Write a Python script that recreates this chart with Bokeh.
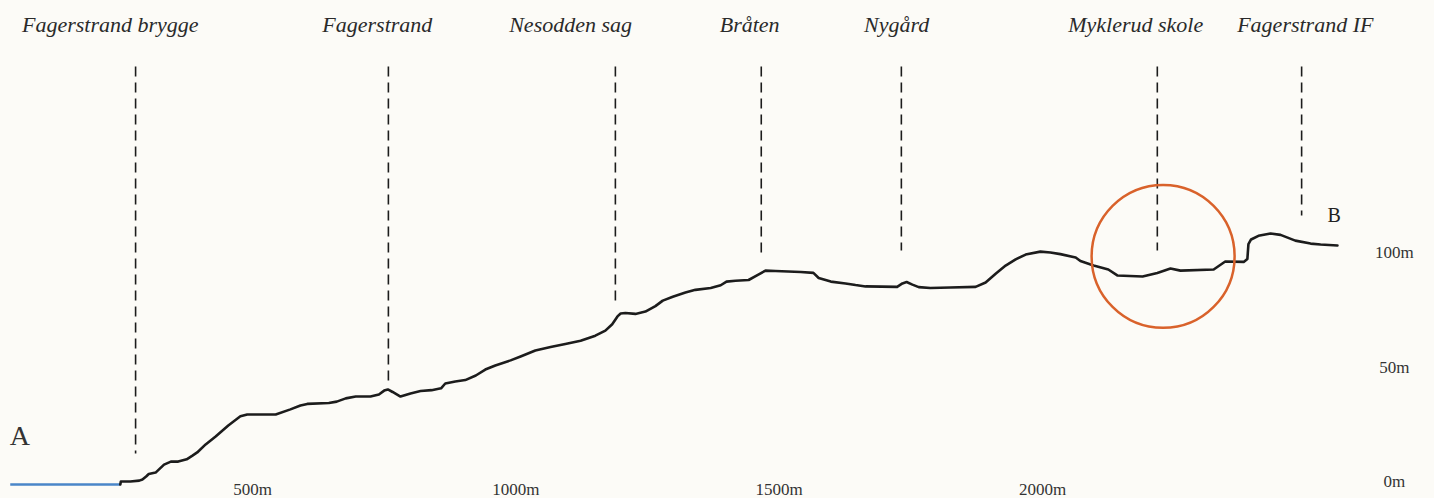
from bokeh.plotting import figure
from bokeh.models import Range1d
from bokeh.core.properties import value
from bokeh.embed import file_html
from bokeh.resources import INLINE

# ---- data -------------------------------------------------------------
# terrain profile: distance along route (m) and elevation (m)
dist = [249, 250, 268, 285, 291, 298, 303, 316, 322, 332, 345, 359, 375, 386, 395,
        411, 430, 454, 477, 490, 544, 572, 591, 604, 645, 660, 677, 696, 724, 740,
        750, 757, 766, 781, 800, 819, 840, 858, 866, 885, 904, 924, 942, 961, 990,
        1009, 1037, 1066, 1094, 1123, 1151, 1170, 1183, 1193, 1199, 1208, 1227, 1246,
        1265, 1279, 1298, 1322, 1341, 1370, 1389, 1400, 1417, 1442, 1457, 1474, 1493,
        1541, 1565, 1575, 1598, 1626, 1645, 1664, 1724, 1734, 1742, 1753, 1765, 1787,
        1825, 1873, 1892, 1911, 1930, 1949, 1968, 1996, 2015, 2034, 2063, 2072, 2097,
        2125, 2142, 2190, 2218, 2243, 2262, 2325, 2347, 2382, 2389, 2391, 2396, 2410,
        2433, 2452, 2480, 2509, 2528, 2560]
elev = [0, 1.3, 1.3, 1.7, 2.2, 3.5, 4.6, 5.2, 6.5, 8.7, 10.0, 10.0, 11.0, 12.6, 14.0,
        17.5, 21.0, 25.8, 29.8, 30.6, 30.6, 32.8, 34.5, 35.2, 35.6, 36.2, 37.6, 38.4, 38.4, 39.3,
        41.0, 41.5, 40.4, 38.4, 39.7, 40.8, 41.2, 42.0, 44.1, 45.0, 45.6, 47.6, 50.2, 52.0, 54.2,
        55.9, 58.5, 60.0, 61.4, 62.8, 65.0, 67.2, 70.0, 73.4, 74.7, 74.9, 74.5, 75.5,
        77.9, 80.3, 82.0, 83.8, 85.0, 85.8, 87.0, 88.6, 89.0, 89.3, 91.2, 93.4, 93.2,
        92.8, 92.4, 90.2, 88.6, 87.8, 87.1, 86.5, 86.3, 87.8, 88.4, 87.3, 86.2, 85.8,
        86.0, 86.3, 88.2, 92.0, 95.6, 98.3, 100.4, 101.7, 101.3, 100.6, 99.1, 97.6, 95.6,
        93.9, 91.3, 90.8, 92.4, 94.3, 93.4, 93.9, 97.4, 97.2, 98.5, 105.0, 107.0, 108.6,
        109.6, 109.0, 106.5, 105.2, 104.8, 104.4]

# sea level (water) before the shore
water_dist = [40, 249]
water_elev = [0, 0]

# stops along the route
stations = ["Fagerstrand brygge", "Fagerstrand", "Nesodden sag", "Bråten",
            "Nygård", "Myklerud skole", "Fagerstrand IF"]
station_dist = [278, 758, 1189, 1466, 1732, 2218, 2492]
station_mark_bottom = [13.5, 45.4, 78.2, 101.3, 102.2, 102.2, 117.5]
label_dist = [230, 737, 1104, 1444, 1723, 2177, 2499]

# highlighted spot
highlight_dist = [2229]
highlight_elev = [99.6]

# axis tick labels
x_ticks = [500, 1000, 1500, 2000]
x_tick_labels = ["500m", "1000m", "1500m", "2000m"]
y_ticks = [0, 50, 100]
y_tick_labels = ["0m", "50m", "100m"]

# endpoints
end_labels = ["A", "B"]
end_dist = [39, 2554]
end_elev = [21.4, 117.6]

# ---- layout constants --------------------------------------------------
BG = "#fcfbf7"
INK = "#1c1c1c"
mark_top = 182.5
label_y = 200.9
xlabel_y = -2.2
ylabel_x = 2668
SERIF = value("Liberation Serif")

p = figure(width=1434, height=498,
           x_range=Range1d(21.5, 2744.3), y_range=Range1d(-6.11, 211.35),
           x_axis_type=None, y_axis_type=None,
           output_backend="svg", toolbar_location=None, min_border=0,
           background_fill_color=BG, border_fill_color=BG,
           outline_line_color=None)
p.xgrid.visible = False
p.ygrid.visible = False

# dashed station markers
p.segment(x0=station_dist, y0=[mark_top] * len(station_dist),
          x1=station_dist, y1=station_mark_bottom,
          line_color=INK, line_width=1.6, line_dash="10 6")

# water
p.line(water_dist, water_elev, line_color="#4a86c8", line_width=2.5)

# terrain profile
p.line(dist, elev, line_color=INK, line_width=2.6,
       line_join="round", line_cap="round")

# highlight circle
p.scatter(highlight_dist, highlight_elev, marker="circle", size=143,
          fill_color=None, line_color="#d9622b", line_width=2.5)

# station labels
p.text(x=label_dist, y=[label_y] * len(label_dist), text=stations,
       text_font=SERIF, text_font_style="italic", text_font_size="22px",
       text_align="center", text_baseline="alphabetic", text_color="#2a2a2a")

# x tick labels
p.text(x=x_ticks, y=[xlabel_y] * len(x_ticks), text=x_tick_labels,
       text_font=SERIF, text_font_size="17px", text_align="center",
       text_baseline="alphabetic", text_color="#333333")

# y tick labels
p.text(x=[ylabel_x] * len(y_ticks), y=y_ticks, text=y_tick_labels,
       text_font=SERIF, text_font_size="17px", text_align="center",
       text_baseline="middle", y_offset=-3, text_color="#333333")

# endpoint letters
p.text(x=end_dist[:1], y=end_elev[:1], text=end_labels[:1],
       text_font=SERIF, text_font_size="28px", text_align="left",
       text_baseline="alphabetic", text_color="#333333")
p.text(x=end_dist[1:], y=end_elev[1:], text=end_labels[1:],
       text_font=SERIF, text_font_size="20px", text_align="center",
       text_baseline="alphabetic", text_color="#222222")

html = file_html(p, INLINE)
html = html.replace("</head>", "<style>body{background:%s;}</style></head>" % BG, 1)
open("out.html", "w").write(html)
